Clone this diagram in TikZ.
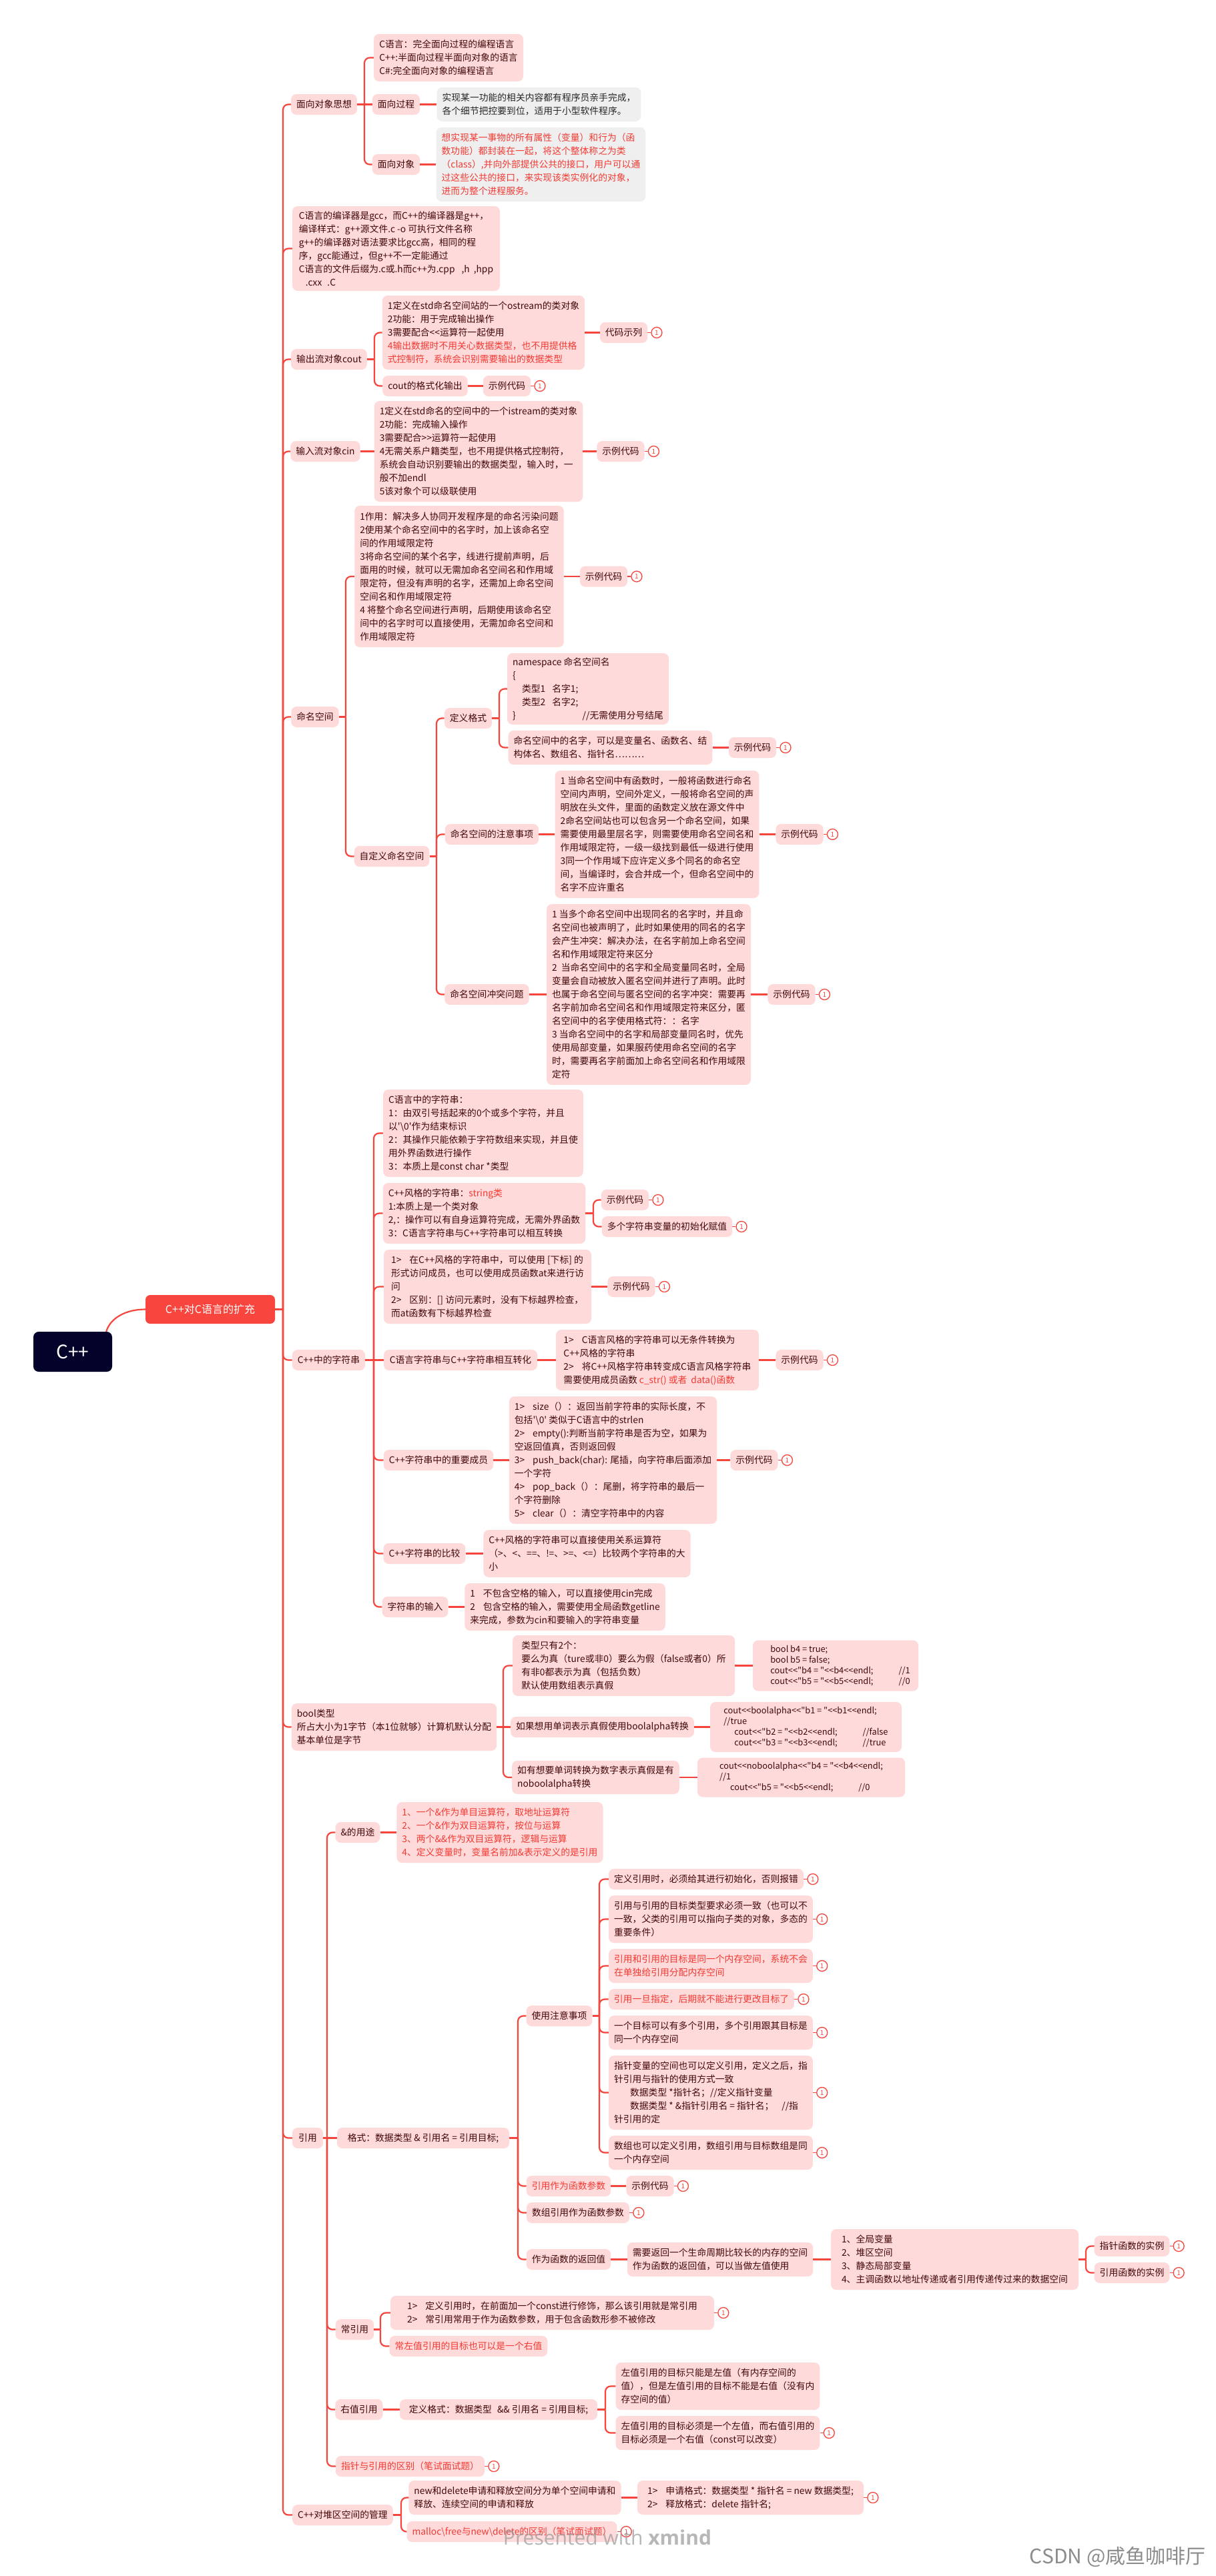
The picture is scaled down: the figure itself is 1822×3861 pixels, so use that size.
\documentclass[tikz,border=0pt]{standalone}
\usepackage{fontspec}
\newfontfamily\cjk{Noto Sans CJK SC}
\newfontfamily\wmf{Open Sans}
\definecolor{pk}{HTML}{FFDADA}
\definecolor{gy}{HTML}{EFEFEF}
\definecolor{tx}{HTML}{420808}
\definecolor{tg}{HTML}{262626}
\definecolor{rd}{HTML}{F23A33}
\definecolor{ln}{HTML}{F5453D}
\definecolor{brc}{HTML}{F8453D}
\definecolor{rt}{HTML}{02022A}
\definecolor{csd}{HTML}{8C8C8C}
\newcommand\fnt{\cjk\fontsize{13.8pt}{20pt}\selectfont}
\newcommand\fcode{\cjk\fontsize{12.8pt}{16pt}\selectfont}
\newcommand\fnum{\cjk\fontsize{10pt}{10pt}\selectfont}
\tikzset{
  bx/.style={fill=pk, rounded corners=8pt, text=tx, font=\fnt, align=left, inner xsep=8pt, inner ysep=4pt},
  gbx/.style={fill=gy},
  code/.style={font=\fcode},
  con/.style={draw=ln, line width=2.2pt},
  circ/.style={circle, draw=ln, fill=white, line width=1.3pt, text=ln, minimum size=16pt, inner sep=0pt, font=\fnum},
}
\newcommand\nd[7][]{\node[bx,#1,minimum width=#5pt,minimum height=#6pt] (#2) at ({#3+#5/2},{#4+#6/2}) {#7};}
\newcommand\brn[3]{\draw[con] (#1.east) -- (#1.east -| #2); \draw[con,rounded corners=8pt] (#1.east -| #2) |- (#3.west);}
\newcommand\lnk[2]{\draw[con] (#1.east) -- (#2.west);}
\newcommand\mrk[1]{\node[circ,anchor=west] (#1m) at ([xshift=5pt]#1.east) {1}; \draw[con,line width=1.3pt] (#1.east) -- (#1m.west);}
\begin{document}
\begin{tikzpicture}[x=1pt,y=-1pt]
\fill[white] (0,0) rectangle (1822,3861);
\useasboundingbox (0,0) rectangle (1822,3861);
% vertical line positions
\coordinate (vT) at (424,0);
\coordinate (vA) at (546,0);
\coordinate (vB) at (561,0);
\coordinate (vC) at (518,0);
\coordinate (vD) at (654,0);
\coordinate (vE) at (748,0);
\coordinate (vF) at (560,0);
\coordinate (vG) at (889,0);
\coordinate (vH) at (754,0);
\coordinate (vI) at (490,0);
\coordinate (vJ) at (776,0);
\coordinate (vK) at (898,0);
\coordinate (vL) at (1627,0);
\coordinate (vM) at (570,0);
\coordinate (vN) at (907,0);
\coordinate (vO) at (601,0);
% root and branch
\node[fill=rt, rounded corners=8pt, text=white, font=\cjk\fontsize{28pt}{30pt}\selectfont, minimum width=118pt, minimum height=60pt, inner sep=0pt] (root) at (109,2026) {C++};
\node[fill=brc, rounded corners=7pt, text=white, font=\cjk\fontsize{16pt}{18pt}\selectfont, minimum width=194pt, minimum height=43pt, inner sep=0pt] (br) at (315,1962.5) {C++对C语言的扩充};
% 1 面向对象思想
\nd{n1}{438}{141}{95}{31}{面向对象思想}
\nd{n1a}{560}{51}{224}{71}{C语言：完全面向过程的编程语言\\C++:半面向过程半面向对象的语言\\C\#:完全面向对象的编程语言}
\nd{n1b}{560}{141}{67}{31}{面向过程}
\nd[gbx,text=tg]{n1b1}{655}{131}{305}{51}{实现某一功能的相关内容都有程序员亲手完成，\\各个细节把控要到位，适用于小型软件程序。}
\nd{n1c}{560}{231}{67}{31}{面向对象}
\nd[gbx,text=rd]{n1c1}{655}{191}{311}{111}{想实现某一事物的所有属性（变量）和行为（函\\数功能）都封装在一起，将这个整体称之为类\\（class）,并向外部提供公共的接口，用户可以通\\过这些公共的接口，来实现该类实例化的对象，\\进而为整个进程服务。}
% 2 compiler
\nd{n2}{438}{309}{311}{127}{C语言的编译器是gcc，而C++的编译器是g++，\\编译样式：g++源文件.c -o 可执行文件名称\\g++的编译器对语法要求比gcc高，相同的程\\序，gcc能通过，但g++不一定能通过\\C语言的文件后缀为.c或.h而c++为.cpp\hspace{10pt},h\hspace{6pt},hpp\\\hspace*{10pt}.cxx\hspace{8pt}.C}
% 3 cout
\nd{n3}{438}{523}{110}{31}{输出流对象cout}
\nd{n3a}{575}{443}{299}{111}{1定义在std命名空间站的一个ostream的类对象\\2功能：用于完成输出操作\\3需要配合<<运算符一起使用\\{\color{rd}4输出数据时不用关心数据类型，也不用提供格}\\{\color{rd}式控制符，系统会识别需要输出的数据类型}}
\nd{n3a1}{901}{483}{67}{31}{代码示列}
\nd{n3b}{575}{563}{124}{31}{cout的格式化输出}
\nd{n3b1}{726}{563}{67}{31}{示例代码}
% 4 cin
\nd{n4}{438}{661}{99}{31}{输入流对象cin}
\nd{n4a}{564}{601}{306}{151}{1定义在std命名的空间中的一个istream的类对象\\2功能：完成输入操作\\3需要配合>>运算符一起使用\\4无需关系户籍类型，也不用提供格式控制符，\\系统会自动识别要输出的数据类型，输入时，一\\般不加endl\\5该对象个可以级联使用}
\nd{n4a1}{897}{661}{66}{31}{示例代码}
% 5 namespace
\nd{n5}{438}{1059}{68}{31}{命名空间}
\nd{n5a}{532}{758}{312}{212}{1作用：解决多人协同开发程序是的命名污染问题\\2使用某个命名空间中的名字时，加上该命名空\\间的作用域限定符\\3将命名空间的某个名字，线进行提前声明，后\\面用的时候，就可以无需加命名空间名和作用域\\限定符，但没有声明的名字，还需加上命名空间\\空间名和作用域限定符\\4 将整个命名空间进行声明，后期使用该命名空\\间中的名字时可以直接使用，无需加命名空间和\\作用域限定符}
\nd{n5a1}{871}{848.5}{67}{31}{示例代码}
\nd{n5b}{532}{1268}{110}{31}{自定义命名空间}
\nd{n5b1}{668}{1061}{67}{31}{定义格式}
\nd{n5b1a}{762}{979}{238}{107}{namespace 命名空间名\\\{\\\hspace*{14pt}类型1\hspace{10pt}名字1;\\\hspace*{14pt}类型2\hspace{10pt}名字2;\\\}\hspace{100pt}//无需使用分号结尾}
\nd{n5b1b}{762}{1095}{305}{51}{命名空间中的名字，可以是变量名、函数名、结\\构体名、数组名、指针名………}
\nd{n5b1b1}{1094}{1105}{67}{31}{示例代码}
\nd{n5b2}{668}{1235}{138}{31}{命名空间的注意事项}
\nd{n5b2a}{832}{1155}{305}{191}{1 当命名空间中有函数时，一般将函数进行命名\\空间内声明，空间外定义，一般将命名空间的声\\明放在头文件，里面的函数定义放在源文件中\\2命名空间站也可以包含另一个命名空间，如果\\需要使用最里层名字，则需要使用命名空间名和\\作用域限定符，一级一级找到最低一级进行使用\\3同一个作用域下应许定义多个同名的命名空\\间，当编译时，会合并成一个，但命名空间中的\\名字不应许重名}
\nd{n5b2a1}{1165}{1235}{66}{31}{示例代码}
\nd{n5b3}{668}{1475}{123}{31}{命名空间冲突问题}
\nd{n5b3a}{819}{1355}{306}{271}{1 当多个命名空间中出现同名的名字时，并且命\\名空间也被声明了，此时如果使用的同名的名字\\会产生冲突：解决办法，在名字前加上命名空间\\名和作用域限定符来区分\\2\hspace{6pt}当命名空间中的名字和全局变量同名时，全局\\变量会自动被放入匿名空间并进行了声明。此时\\也属于命名空间与匿名空间的名字冲突：需要再\\名字前加命名空间名和作用域限定符来区分，匿\\名空间中的名字使用格式符：：名字\\3 当命名空间中的名字和局部变量同名时，优先\\使用局部变量，如果服药使用命名空间的名字\\时，需要再名字前面加上命名空间名和作用域限\\定符}
\nd{n5b3a1}{1153}{1475}{66}{31}{示例代码}
% 6 strings
\nd{n6}{438}{2023}{109}{31}{C++中的字符串}
\nd{n6a}{575}{1633}{298}{131}{C语言中的字符串：\\1：由双引号括起来的0个或多个字符，并且\\以'\textbackslash 0'作为结束标识\\2：其操作只能依赖于字符数组来实现，并且使\\用外界函数进行操作\\3：本质上是const char *类型}
\nd{n6b}{575}{1773}{301}{91}{C++风格的字符串：{\color{rd}string类}\\1:本质上是一个类对象\\2,：操作可以有自身运算符完成，无需外界函数\\3：C语言字符串与C++字符串可以相互转换}
\nd{n6b1}{903}{1783}{67}{31}{示例代码}
\nd{n6b2}{903}{1823}{193}{31}{多个字符串变量的初始化赋值}
\nd{n6c}{575}{1873}{311}{111}{1>\hspace{12pt}在C++风格的字符串中，可以使用 [下标] 的\\形式访问成员，也可以使用成员函数at来进行访\\问\\2>\hspace{12pt}区别：[] 访问元素时，没有下标越界检查，\\而at函数有下标越界检查}
\nd{n6c1}{913}{1913}{66}{31}{示例代码}
\nd{n6d}{575}{2023}{230}{31}{C语言字符串与C++字符串相互转化}
\nd{n6d1}{833}{1993}{304}{91}{1>\hspace{12pt}C语言风格的字符串可以无条件转换为\\C++风格的字符串\\2>\hspace{12pt}将C++风格字符串转变成C语言风格字符串\\需要使用成员函数 {\color{rd}c\_str() 或者\hspace{6pt}data()函数}}
\nd{n6d1a}{1165}{2023}{66}{31}{示例代码}
\nd{n6e}{575}{2173}{164}{31}{C++字符串中的重要成员}
\nd{n6e1}{767}{2093}{303}{191}{1>\hspace{12pt}size（）：返回当前字符串的实际长度，不\\包括'\textbackslash 0' 类似于C语言中的strlen\\2>\hspace{12pt}empty():判断当前字符串是否为空，如果为\\空返回值真，否则返回假\\3>\hspace{12pt}push\_back(char): 尾插，向字符串后面添加\\一个字符\\4>\hspace{12pt}pop\_back（）：尾删，将字符串的最后一\\个字符删除\\5>\hspace{12pt}clear（）：清空字符串中的内容}
\nd{n6e1a}{1097}{2173}{66}{31}{示例代码}
\nd{n6f}{575}{2313}{122}{31}{C++字符串的比较}
\nd{n6f1}{725}{2293}{309}{71}{C++风格的字符串可以直接使用关系运算符\\（>、<、==、!=、>=、<=）比较两个字符串的大\\小}
\nd{n6g}{575}{2393}{94}{31}{字符串的输入}
\nd{n6g1}{697}{2373}{299}{71}{1\hspace{12pt}不包含空格的输入，可以直接使用cin完成\\2\hspace{12pt}包含空格的输入，需要使用全局函数getline\\来完成，参数为cin和要输入的字符串变量}
% 7 bool
\nd{n7}{439}{2553}{303}{71}{bool类型\\所占大小为1字节（本1位就够）计算机默认分配\\基本单位是字节}
\nd{n7a}{768}{2451}{333}{91}{类型只有2个：\\要么为真（ture或非0）要么为假（false或者0）所\\有非0都表示为真（包括负数）\\默认使用数组表示真假}
\nd[code]{n7a1}{1128}{2458.5}{248}{76}{\hspace*{14pt}bool b4 = true;\\\hspace*{14pt}bool b5 = false;\\\hspace*{14pt}cout<<"b4 = "<<b4<<endl;\hspace{38pt}//1\\\hspace*{14pt}cout<<"b5 = "<<b5<<endl;\hspace{38pt}//0}
\nd{n7b}{768}{2573}{269}{31}{如果想用单词表示真假使用boolalpha转换}
\nd[code]{n7b1}{1064}{2551}{287}{75}{cout<<boolalpha<<"b1 = "<<b1<<endl;\\//true\\\hspace*{16pt}cout<<"b2 = "<<b2<<endl;\hspace{38pt}//false\\\hspace*{16pt}cout<<"b3 = "<<b3<<endl;\hspace{38pt}//true}
\nd{n7c}{768}{2639}{249}{50}{如有想要单词转换为数字表示真假是有\\noboolalpha转换}
\nd[code]{n7c1}{1045}{2634.5}{311}{59}{cout<<noboolalpha<<"b4 = "<<b4<<endl;\\//1\\\hspace*{16pt}cout<<"b5 = "<<b5<<endl;\hspace{38pt}//0}
% 8 reference
\nd{n8}{438}{3189}{46}{31}{引用}
\nd{n8a}{504}{2731}{64}{31}{\&的用途}
\nd[text=rd]{n8a1}{595}{2701}{308}{91}{1、一个\&作为单目运算符，取地址运算符\\2、一个\&作为双目运算符，按位与运算\\3、两个\&\&作为双目运算符，逻辑与运算\\4、定义变量时，变量名前加\&表示定义的是引用}
\nd{n8b}{505}{3189}{258}{31}{格式：数据类型 \& 引用名 = 引用目标;}
\nd{n8b1}{790}{3006}{96}{31}{使用注意事项}
\nd{n8b1a}{913}{2801}{290}{31}{定义引用时，必须给其进行初始化，否则报错}
\nd{n8b1b}{913}{2841}{304}{71}{引用与引用的目标类型要求必须一致（也可以不\\一致，父类的引用可以指向子类的对象，多态的\\重要条件）}
\nd[text=rd]{n8b1c}{913}{2921}{304}{51}{引用和引用的目标是同一个内存空间，系统不会\\在单独给引用分配内存空间}
\nd[text=rd]{n8b1d}{913}{2981}{276}{31}{引用一旦指定，后期就不能进行更改目标了}
\nd{n8b1e}{913}{3021}{304}{51}{一个目标可以有多个引用，多个引用跟其目标是\\同一个内存空间}
\nd{n8b1f}{913}{3081}{304}{111}{指针变量的空间也可以定义引用，定义之后，指\\针引用与指针的使用方式一致\\\hspace*{24pt}数据类型 *指针名；//定义指针变量\\\hspace*{24pt}数据类型 * \&指针引用名 = 指针名；\hspace{12pt}//指\\针引用的定}
\nd{n8b1g}{913}{3201}{304}{51}{数组也可以定义引用，数组引用与目标数组是同\\一个内存空间}
\nd[text=rd]{n8b2}{791}{3261}{122}{31}{引用作为函数参数}
\nd{n8b2a}{941}{3261}{66}{31}{示例代码}
\nd{n8b3}{791}{3301}{150}{31}{数组引用作为函数参数}
\nd{n8b4}{791}{3371}{122}{31}{作为函数的返回值}
\nd{n8b4a}{941}{3361}{276}{51}{需要返回一个生命周期比较长的内存的空间\\作为函数的返回值，可以当做左值使用}
\nd{n8b4b}{1245}{3341}{371}{91}{1、全局变量\\2、堆区空间\\3、静态局部变量\\4、主调函数以地址传递或者引用传递传过来的数据空间}
\nd{n8b4b1}{1642}{3351}{108}{31}{指针函数的实例}
\nd{n8b4b2}{1642}{3391}{108}{31}{引用函数的实例}
\nd{n8c}{505}{3476}{53}{31}{常引用}
\nd{n8c1}{585}{3441}{485}{51}{1>\hspace{12pt}定义引用时，在前面加一个const进行修饰，那么该引用就是常引用\\2>\hspace{12pt}常引用常用于作为函数参数，用于包含函数形参不被修改}
\nd[text=rd]{n8c2}{585}{3501}{234}{31}{常左值引用的目标也可以是一个右值}
\nd{n8d}{505}{3596}{66}{31}{右值引用}
\nd{n8d1}{599}{3596}{296}{31}{定义格式：数据类型\hspace{8pt}\&\& 引用名 = 引用目标;}
\nd{n8d1a}{923}{3541}{305}{71}{左值引用的目标只能是左值（有内存空间的\\值），但是左值引用的目标不能是右值（没有内\\存空间的值）}
\nd{n8d1b}{923}{3621}{305}{51}{左值引用的目标必须是一个左值，而右值引用的\\目标必须是一个右值（const可以改变）}
\nd[text=rd]{n8e}{505}{3681}{219}{31}{指针与引用的区别（笔试面试题）}
% 9 heap
\nd{n9}{439}{3754}{149}{31}{C++对堆区空间的管理}
\nd{n9a}{616}{3718}{311}{51}{new和delete申请和释放空间分为单个空间申请和\\释放、连续空间的申请和释放}
\nd{n9a1}{955}{3718}{339}{51}{1>\hspace{12pt}申请格式：数据类型 * 指针名 = new 数据类型;\\2>\hspace{12pt}释放格式：delete 指针名;}
\nd[text=rd]{n9b}{616}{3779}{302}{31}{malloc\textbackslash free与new\textbackslash delete的区别（笔试面试题）}
% connectors
\draw[con] ([xshift=-9pt]root.north east) .. controls +(6,-20) and +(-30,0) .. (br.west);
\brn{br}{vT}{n1}\brn{br}{vT}{n2}\brn{br}{vT}{n3}\brn{br}{vT}{n4}\brn{br}{vT}{n5}
\brn{br}{vT}{n6}\brn{br}{vT}{n7}\brn{br}{vT}{n8}\brn{br}{vT}{n9}
\brn{n1}{vA}{n1a}\lnk{n1}{n1b}\brn{n1}{vA}{n1c}
\lnk{n1b}{n1b1}\lnk{n1c}{n1c1}
\brn{n3}{vB}{n3a}\brn{n3}{vB}{n3b}
\lnk{n3a}{n3a1}\lnk{n3b}{n3b1}\mrk{n3a1}\mrk{n3b1}
\lnk{n4}{n4a}\lnk{n4a}{n4a1}\mrk{n4a1}
\brn{n5}{vC}{n5a}\brn{n5}{vC}{n5b}\lnk{n5a}{n5a1}\mrk{n5a1}
\brn{n5b}{vD}{n5b1}\brn{n5b}{vD}{n5b2}\brn{n5b}{vD}{n5b3}
\brn{n5b1}{vE}{n5b1a}\brn{n5b1}{vE}{n5b1b}\lnk{n5b1b}{n5b1b1}\mrk{n5b1b1}
\lnk{n5b2}{n5b2a}\lnk{n5b2a}{n5b2a1}\mrk{n5b2a1}
\lnk{n5b3}{n5b3a}\lnk{n5b3a}{n5b3a1}\mrk{n5b3a1}
\brn{n6}{vF}{n6a}\brn{n6}{vF}{n6b}\brn{n6}{vF}{n6c}\lnk{n6}{n6d}
\brn{n6}{vF}{n6e}\brn{n6}{vF}{n6f}\brn{n6}{vF}{n6g}
\brn{n6b}{vG}{n6b1}\brn{n6b}{vG}{n6b2}\mrk{n6b1}\mrk{n6b2}
\lnk{n6c}{n6c1}\mrk{n6c1}
\lnk{n6d}{n6d1}\lnk{n6d1}{n6d1a}\mrk{n6d1a}
\lnk{n6e}{n6e1}\lnk{n6e1}{n6e1a}\mrk{n6e1a}
\lnk{n6f}{n6f1}\lnk{n6g}{n6g1}
\brn{n7}{vH}{n7a}\lnk{n7}{n7b}\brn{n7}{vH}{n7c}
\lnk{n7a}{n7a1}\lnk{n7b}{n7b1}\lnk{n7c}{n7c1}
\brn{n8}{vI}{n8a}\lnk{n8}{n8b}\brn{n8}{vI}{n8c}\brn{n8}{vI}{n8d}\brn{n8}{vI}{n8e}
\lnk{n8a}{n8a1}
\brn{n8b}{vJ}{n8b1}\brn{n8b}{vJ}{n8b2}\brn{n8b}{vJ}{n8b3}\brn{n8b}{vJ}{n8b4}
\brn{n8b1}{vK}{n8b1a}\brn{n8b1}{vK}{n8b1b}\brn{n8b1}{vK}{n8b1c}\brn{n8b1}{vK}{n8b1d}
\brn{n8b1}{vK}{n8b1e}\brn{n8b1}{vK}{n8b1f}\brn{n8b1}{vK}{n8b1g}
\mrk{n8b1a}\mrk{n8b1b}\mrk{n8b1c}\mrk{n8b1d}\mrk{n8b1e}\mrk{n8b1f}\mrk{n8b1g}
\lnk{n8b2}{n8b2a}\mrk{n8b2a}\mrk{n8b3}
\lnk{n8b4}{n8b4a}\lnk{n8b4a}{n8b4b}
\brn{n8b4b}{vL}{n8b4b1}\brn{n8b4b}{vL}{n8b4b2}\mrk{n8b4b1}\mrk{n8b4b2}
\brn{n8c}{vM}{n8c1}\brn{n8c}{vM}{n8c2}\mrk{n8c1}
\lnk{n8d}{n8d1}\brn{n8d1}{vN}{n8d1a}\brn{n8d1}{vN}{n8d1b}\mrk{n8d1b}
\mrk{n8e}
\brn{n9}{vO}{n9a}\brn{n9}{vO}{n9b}\lnk{n9a}{n9a1}\mrk{n9a1}\mrk{n9b}
% watermarks
\node[text=black!40, opacity=0.7, font=\wmf\fontsize{30pt}{32pt}\selectfont, anchor=base] (wm) at (910,3814) {Presented with \textbf{xmind}};
\node[text=csd, font=\cjk\fontsize{30pt}{32pt}\selectfont, anchor=base east] (csdn) at (1810,3842) {CSDN @咸鱼咖啡厅};
\end{tikzpicture}
\end{document}
